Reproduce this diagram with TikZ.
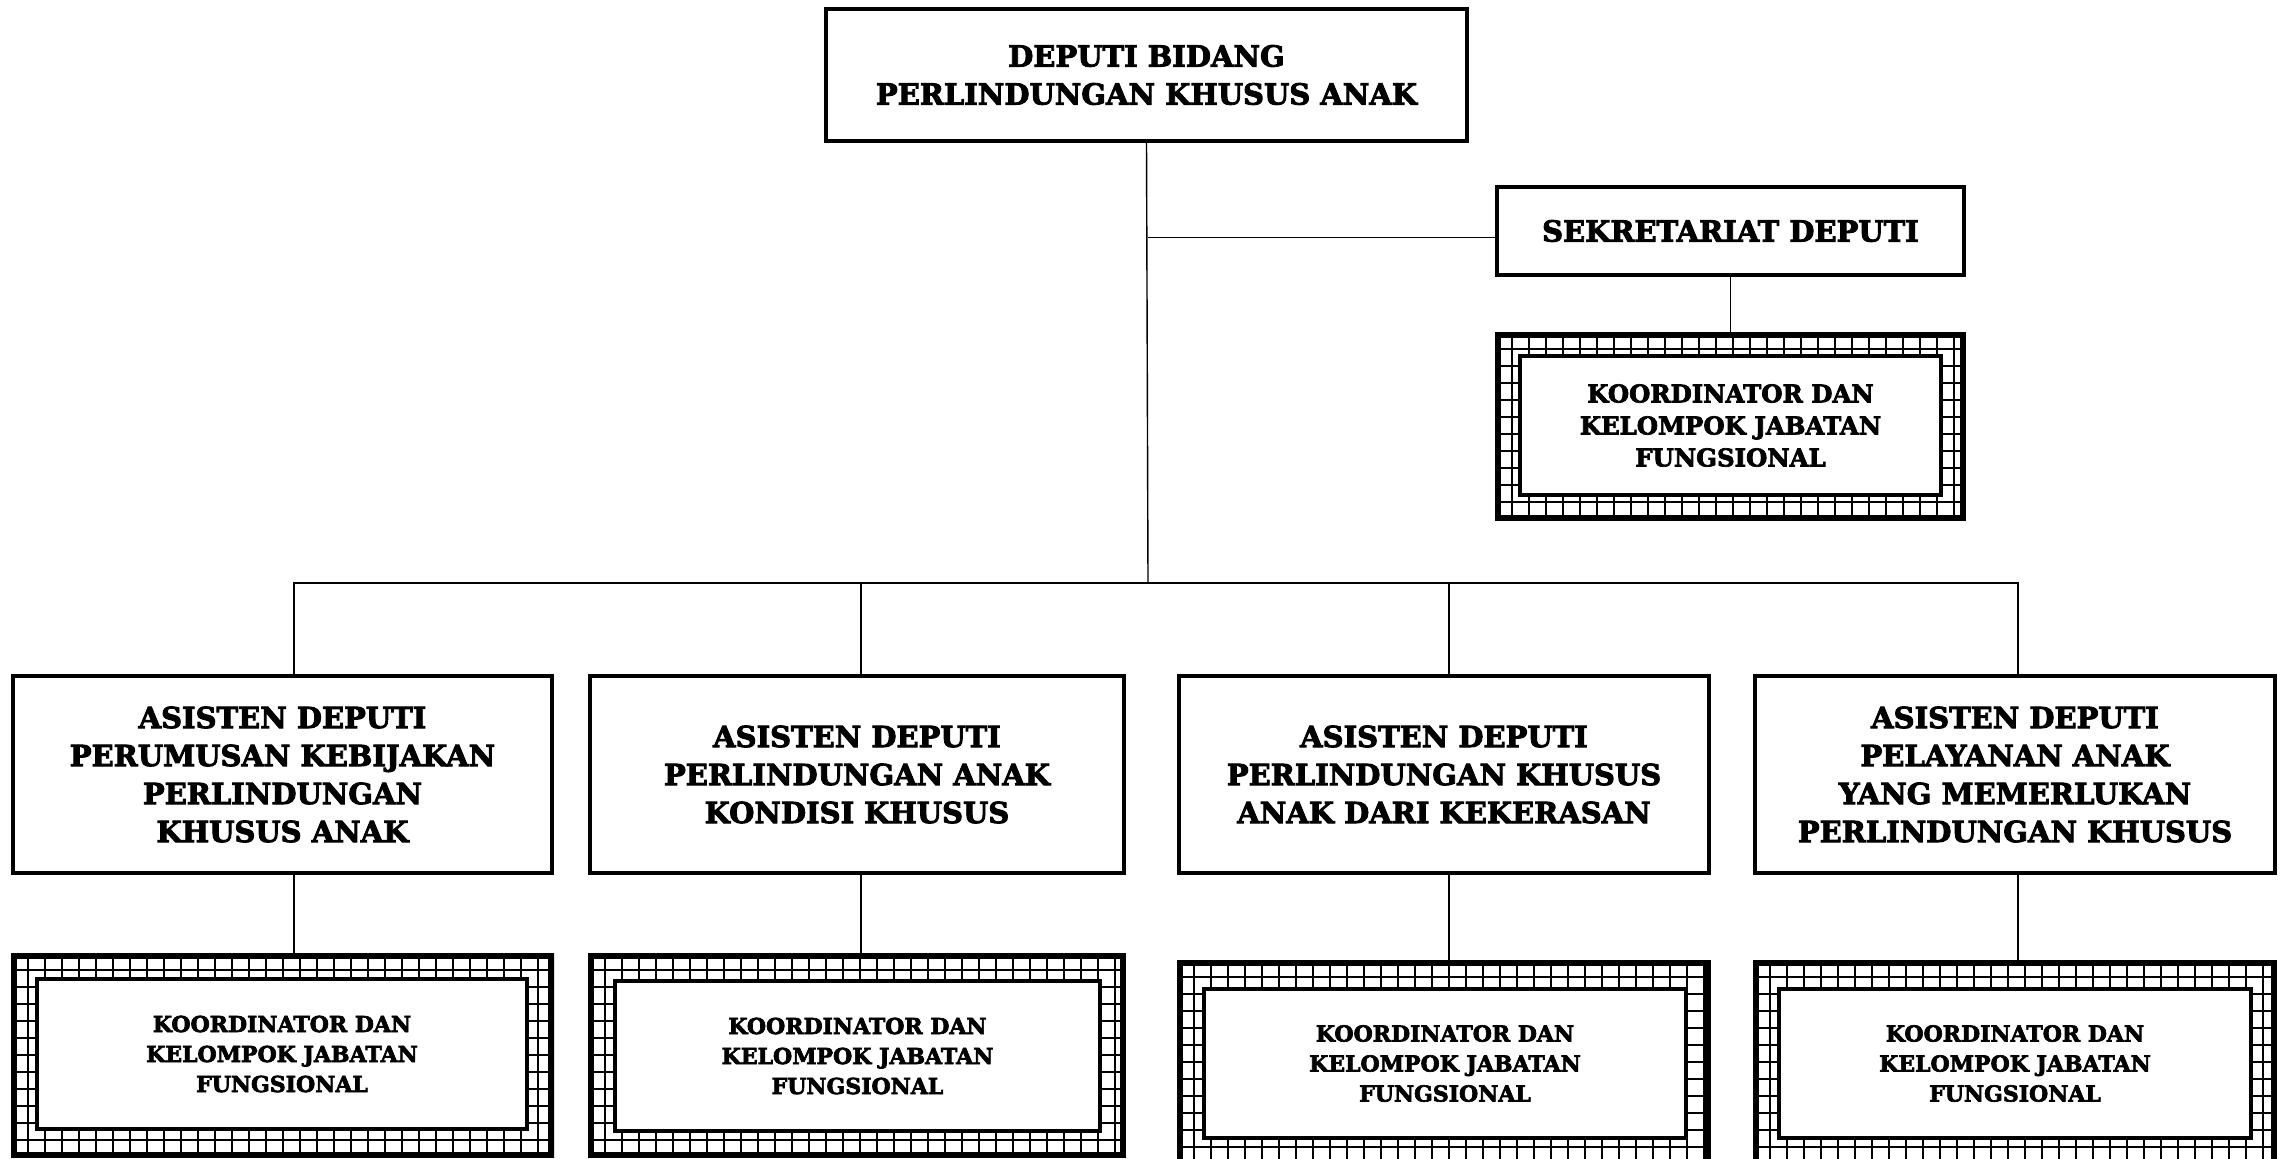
\documentclass[tikz,border=0pt]{standalone}
\usepackage{fontspec}
\setmainfont{DejaVu Serif}[BoldFont={DejaVu Serif Bold}, BoldFeatures={FakeBold=3}]
\tikzset{
  x=0.5pt, y=-0.5pt,
  orgbox/.style={draw, line width=2pt, fill=white, align=center, inner sep=0pt,
    font=\bfseries\fontsize{14.5}{19}\selectfont},
  kjfouter/.style={draw, line width=2pt, inner sep=0pt},
  kjfinner/.style={draw, line width=2pt, fill=white, align=center, inner sep=0pt,
    font=\bfseries\fontsize{11}{15}\selectfont},
  kjfinnerbig/.style={kjfinner, font=\bfseries\fontsize{12.2}{16}\selectfont},
  gridline/.style={line width=0.8pt},
  conn/.style={line width=0.7pt},
}
\newcommand\placebox[7]{%
  \pgfmathsetmacro\myBW{(#5-#3)*0.5}%
  \pgfmathsetmacro\myBH{(#6-#4)*0.5}%
  \pgfmathsetmacro\myBX{(#3+#5)/2}%
  \pgfmathsetmacro\myBY{(#4+#6)/2}%
  \node[#1, minimum width=\myBW pt, minimum height=\myBH pt] (#2) at (\myBX,\myBY) {#7};%
}
% grid hatch inside a named outer box (17 px cells)
\newcommand\gridfill[1]{%
  \begin{scope}
    \clip (#1.south west) rectangle (#1.north east);
    \foreach \g in {0,17,...,680}{
      \draw[gridline] ([xshift=\g*0.5pt]#1.north west) -- ([xshift=\g*0.5pt]#1.south west);
    }
    \foreach \g in {0,17,...,272}{
      \draw[gridline] ([yshift=-\g*0.5pt]#1.north west) -- ([yshift=-\g*0.5pt]#1.north east);
    }
    \draw[gridline] ([shift={(2.5pt,2.5pt)}]#1.south west) rectangle ([shift={(-2.5pt,-2.5pt)}]#1.north east);
  \end{scope}%
}
\begin{document}
\begin{tikzpicture}
\useasboundingbox (0,0) rectangle (2285,1158);

% top
\placebox{orgbox}{top}{826}{9}{1467}{141}{DEPUTI BIDANG\\PERLINDUNGAN KHUSUS ANAK}
\placebox{orgbox}{sek}{1497}{187}{1964}{275}{SEKRETARIAT DEPUTI}

% sekretariat KJF
\placebox{kjfouter}{sko}{1497}{334}{1964}{519}{}
\gridfill{sko}
\placebox{kjfinnerbig}{ski}{1520}{356}{1941}{495}{KOORDINATOR DAN\\KELOMPOK JABATAN\\FUNGSIONAL}

% asisten deputi
\placebox{orgbox}{a1}{13}{676}{552}{873}{ASISTEN DEPUTI\\PERUMUSAN KEBIJAKAN\\PERLINDUNGAN\\KHUSUS ANAK}
\placebox{orgbox}{a2}{590}{676}{1124}{873}{ASISTEN DEPUTI\\PERLINDUNGAN ANAK\\KONDISI KHUSUS}
\placebox{orgbox}{a3}{1179}{676}{1709}{873}{ASISTEN DEPUTI\\PERLINDUNGAN KHUSUS\\ANAK DARI KEKERASAN}
\placebox{orgbox}{a4}{1755}{676}{2275}{873}{ASISTEN DEPUTI\\PELAYANAN ANAK\\YANG MEMERLUKAN\\PERLINDUNGAN KHUSUS}

% KJF boxes
\placebox{kjfouter}{k1o}{13}{955}{552}{1156}{}
\gridfill{k1o}
\placebox{kjfinner}{k1}{37}{979}{527}{1129}{KOORDINATOR DAN\\KELOMPOK JABATAN\\FUNGSIONAL}
\placebox{kjfouter}{k2o}{590}{955}{1124}{1156}{}
\gridfill{k2o}
\placebox{kjfinner}{k2}{615}{981}{1100}{1131}{KOORDINATOR DAN\\KELOMPOK JABATAN\\FUNGSIONAL}
\placebox{kjfouter}{k3o}{1179}{962}{1709}{1166}{}
\gridfill{k3o}
\placebox{kjfinner}{k3}{1204}{989}{1686}{1138}{KOORDINATOR DAN\\KELOMPOK JABATAN\\FUNGSIONAL}
\placebox{kjfouter}{k4o}{1755}{962}{2275}{1166}{}
\gridfill{k4o}
\placebox{kjfinner}{k4}{1779}{989}{2251}{1138}{KOORDINATOR DAN\\KELOMPOK JABATAN\\FUNGSIONAL}

% connector anchor points
\coordinate (bus) at (1148,583);
\coordinate (sekj) at (1148,237.5);
\coordinate (c1) at ([xshift=5.75pt]a1.north);
\coordinate (c2) at ([xshift=2pt]a2.north);
\coordinate (c3) at ([xshift=2.5pt]a3.north);
\coordinate (c4) at ([xshift=1.5pt]a4.north);

% connectors
\draw[conn] (top.south) -- (bus);
\draw[conn] (sekj) -- (sekj -| sek.west);
\draw[conn] (sek.south) -- (sko.north);
\draw[conn] (c1) -- (c1 |- bus) -- (c4 |- bus) -- (c4);
\draw[conn] (c2 |- bus) -- (c2);
\draw[conn] (c3 |- bus) -- (c3);
\draw[conn] (c1 |- a1.south) -- (c1 |- k1o.north);
\draw[conn] (c2 |- a2.south) -- (c2 |- k2o.north);
\draw[conn] (c3 |- a3.south) -- (c3 |- k3o.north);
\draw[conn] (c4 |- a4.south) -- (c4 |- k4o.north);
\end{tikzpicture}
\end{document}
